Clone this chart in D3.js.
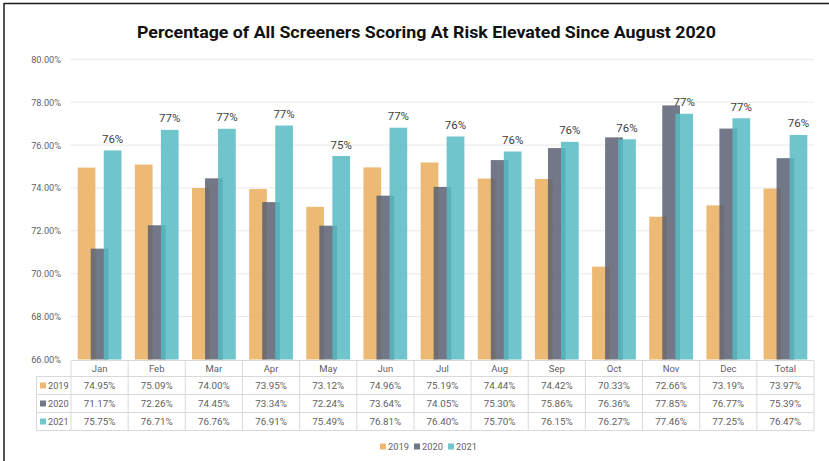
<!DOCTYPE html>
<html><head><meta charset="utf-8">
<script src="https://cdn.jsdelivr.net/npm/d3@7"></script>
<style>body{margin:0;background:#fff}svg{display:block}</style>
</head><body>
<svg id="c" width="829" height="461"></svg>
<script>
const categories = ["Jan","Feb","Mar","Apr","May","Jun","Jul","Aug","Sep","Oct","Nov","Dec","Total"];
const years = ["2019","2020","2021"];
const v2019 = [74.95,75.09,74.00,73.95,73.12,74.96,75.19,74.44,74.42,70.33,72.66,73.19,73.97];
const v2020 = [71.17,72.26,74.45,73.34,72.24,73.64,74.05,75.30,75.86,76.36,77.85,76.77,75.39];
const v2021 = [75.75,76.71,76.76,76.91,75.49,76.81,76.40,75.70,76.15,76.27,77.46,77.25,76.47];
const yTicks = [66,68,70,72,74,76,78,80];
const title = "Percentage of All Screeners Scoring At Risk Elevated Since August 2020";

const seriesVals = [v2019, v2020, v2021];
const colors = ["#EAAE5D", "#596072", "#57BBC3"];
const swatch = ["#EDB872", "#737886", "#72C6CD"];

const svg = d3.select("#c");
const font = "Roboto, 'Open Sans', sans-serif";
const textCol = "#5f5f5f";

// frame
svg.append("line").attr("x1",4).attr("x2",829).attr("y1",3.5).attr("y2",3.5).attr("stroke","#1a1a1a").attr("stroke-width",1.5);
svg.append("line").attr("x1",4).attr("x2",4).attr("y1",3).attr("y2",461).attr("stroke","#1a1a1a").attr("stroke-width",1.5);

// title
svg.append("text").attr("x",426.5).attr("y",37.5).attr("text-anchor","middle")
  .attr("font-family",font).attr("font-weight","bold").attr("font-size",17)
  .attr("fill","#111").attr("textLength",579).attr("lengthAdjust","spacingAndGlyphs").text(title);

const x = d3.scaleBand().domain(categories).range([71,814]);
const y = d3.scaleLinear().domain([66,80]).range([359.5,59.3]);
const bw = x.bandwidth();

// gridlines
svg.append("g").selectAll("line").data(yTicks.filter(t=>t>66)).join("line")
  .attr("x1",70).attr("x2",814).attr("y1",d=>y(d)).attr("y2",d=>y(d))
  .attr("stroke","#e9e9e9").attr("stroke-width",1);

// y axis labels
const yAxis = d3.axisLeft(y).tickValues(yTicks).tickFormat(d=>d.toFixed(2)+"%").tickSize(0).tickPadding(0);
const ga = svg.append("g").attr("transform","translate(61,0)").call(yAxis);
ga.select(".domain").remove();
ga.selectAll("text").attr("font-family",font).attr("font-size",9.2).attr("fill",textCol).attr("dy","0.32em");

// bars
const barW = bw*0.31, step = bw*0.228;
seriesVals.forEach((vals, si) => {
  svg.append("g").selectAll("rect").data(vals).join("rect")
    .attr("x",(d,i)=>x(categories[i]) + bw/2 + (si-1)*step - barW/2)
    .attr("width",barW)
    .attr("y",d=>y(d)).attr("height",d=>y(66)-y(d))
    .attr("fill",colors[si]).attr("fill-opacity",0.85);
});

// data labels on 2021
svg.append("g").selectAll("text").data(v2021).join("text")
  .attr("x",(d,i)=>x(categories[i]) + bw/2 + step)
  .attr("y",d=>y(d)-7.5).attr("text-anchor","middle")
  .attr("font-family",font).attr("font-size",11.5).attr("fill","#404040")
  .text(d=>Math.round(d)+"%");

// table
const tTop = 360.5, hH = 16, rH = 18, labL = 36.5, tR = 814;
const tb = svg.append("g").attr("stroke","#d9d9d9").attr("stroke-width",1).attr("fill","none");
tb.append("line").attr("x1",71).attr("x2",tR).attr("y1",tTop).attr("y2",tTop);
for (let r=0;r<=3;r++){
  const yy = tTop+hH+r*rH;
  tb.append("line").attr("x1",labL).attr("x2",tR).attr("y1",yy).attr("y2",yy);
}
tb.append("line").attr("x1",labL).attr("x2",labL).attr("y1",tTop+hH).attr("y2",tTop+hH+3*rH);
categories.forEach(c=>{
  tb.append("line").attr("x1",x(c)).attr("x2",x(c)).attr("y1",tTop).attr("y2",tTop+hH+3*rH);
});
tb.append("line").attr("x1",tR).attr("x2",tR).attr("y1",tTop).attr("y2",tTop+hH+3*rH);

// header
svg.append("g").selectAll("text").data(categories).join("text")
  .attr("x",c=>x(c)+bw/2).attr("y",tTop+hH/2).attr("dy","0.35em").attr("text-anchor","middle")
  .attr("font-family",font).attr("font-size",9.5).attr("fill",textCol).text(c=>c);

seriesVals.forEach((vals, si)=>{
  const cy = tTop+hH+si*rH+rH/2;
  svg.append("rect").attr("x",40).attr("y",cy-3).attr("width",6).attr("height",6).attr("fill",swatch[si]);
  svg.append("text").attr("x",48).attr("y",cy).attr("dy","0.35em")
    .attr("font-family",font).attr("font-size",9.2).attr("fill",textCol).text(years[si]);
  svg.append("g").selectAll("text").data(vals).join("text")
    .attr("x",(d,i)=>x(categories[i])+bw/2).attr("y",cy).attr("dy","0.35em").attr("text-anchor","middle")
    .attr("font-family",font).attr("font-size",9.8).attr("fill",textCol).text(d=>d.toFixed(2)+"%");
});

// legend
const lg = svg.append("g");
years.forEach((yr,i)=>{
  const lx = 380 + i*34;
  lg.append("rect").attr("x",lx).attr("y",443.5).attr("width",6).attr("height",6).attr("fill",swatch[i]);
  lg.append("text").attr("x",lx+8).attr("y",446.5).attr("dy","0.35em")
    .attr("font-family",font).attr("font-size",9.3).attr("fill",textCol).text(yr);
});
</script>
</body></html>
